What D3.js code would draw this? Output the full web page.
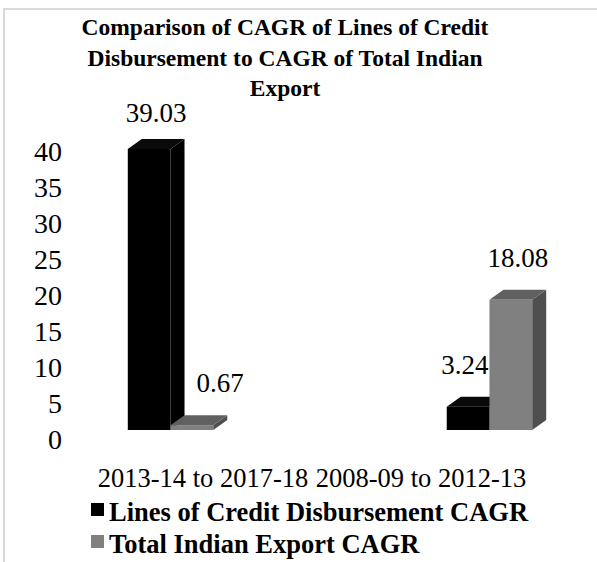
<!DOCTYPE html>
<html><head><meta charset="utf-8">
<script src="https://cdn.jsdelivr.net/npm/d3@7/dist/d3.min.js"></script>
<style>html,body{margin:0;padding:0;background:#fff;}svg{display:block;}svg text{font-family:"Liberation Serif";}</style>
</head><body>
<script>
const titleLines = ["Comparison of CAGR of Lines of Credit", "Disbursement to CAGR of Total Indian", "Export"];
const categories = ["2013-14 to 2017-18", "2008-09 to 2012-13"];
const seriesNames = ["Lines of Credit Disbursement CAGR", "Total Indian Export CAGR"];
const creditCAGR = [39.03, 3.24];
const exportCAGR = [0.67, 18.08];
const yTicks = [0, 5, 10, 15, 20, 25, 30, 35, 40];

const W = 597, H = 562;
const serif = "Liberation Serif";
const svg = d3.select("body").append("svg").attr("width", W).attr("height", H);

// frame
svg.append("path").attr("d", `M4,${H} L4,9 L${W},9`).attr("fill", "none")
  .attr("stroke", "#d9d9d9").attr("stroke-width", 2);

// title
svg.append("g").selectAll("text").data(titleLines).join("text")
  .attr("x", 285).attr("y", (d, i) => 35 + i * 30.5)
  .attr("text-anchor", "middle").style("font-family", serif)
  .attr("font-weight", "bold").attr("font-size", 23.5).attr("fill", "#000").text(d => d);

const series = [
  {name: seriesNames[0], values: creditCAGR, front: "#000000", top: "#0a0a0a", side: "#000000"},
  {name: seriesNames[1], values: exportCAGR, front: "#808080", top: "#606060", side: "#4f4f4f"}
];

const y = d3.scaleLinear().domain([0, 40]).range([430, 142]);
const x0 = d3.scaleBand().domain(categories).range([64, 596]).paddingInner(0.732).paddingOuter(0.2);
const x1 = d3.scaleBand().domain(series.map(s => s.name)).range([0, x0.bandwidth()]);
const depthX = 14, depthY = -10;

// y tick labels (aligned to back wall)
svg.append("g").selectAll("text").data(yTicks).join("text")
  .attr("x", 62).attr("y", d => y(d) + 9).attr("dy", "0.35em")
  .attr("text-anchor", "end").style("font-family", serif).attr("font-size", 28)
  .attr("fill", "#000").text(d => d);

// bars
const bars = [];
categories.forEach((c, ci) => {
  series.forEach((s, si) => {
    const xl = x0(c) + x1(s.name), w = x1.bandwidth();
    const yt = y(s.values[ci]), yb = y(0);
    bars.push({c, ci, s, si, xl, w, yt, yb, v: s.values[ci]});
  });
});
const gb = svg.append("g");
bars.forEach(b => {
  const {xl, w, yt, yb, s} = b;
  gb.append("polygon")
    .attr("points", [[xl + w, yt], [xl + w + depthX, yt + depthY], [xl + w + depthX, yb + depthY], [xl + w, yb]].join(" "))
    .attr("fill", s.side).attr("stroke", s.si ? "#8a8a8a" : "none").attr("stroke-width", 0.6);
  gb.append("polygon")
    .attr("points", [[xl, yt], [xl + depthX, yt + depthY], [xl + w + depthX, yt + depthY], [xl + w, yt]].join(" "))
    .attr("fill", s.top).attr("stroke", s.si ? "#8a8a8a" : "none").attr("stroke-width", 0.6);
  gb.append("rect").attr("x", xl).attr("y", yt).attr("width", w).attr("height", yb - yt)
    .attr("fill", s.front).attr("stroke", s.si ? "#999" : "none").attr("stroke-width", 0.6);
});

// value labels
const gl = svg.append("g");
bars.forEach(b => {
  const t = gl.append("text").style("font-family", serif).attr("font-size", 27).attr("fill", "#000")
    .attr("y", Math.max(b.yt - 33, 122)).text(b.v.toFixed(2));
  const tw = t.node().getComputedTextLength();
  let cx = b.xl + b.w / 2 + depthX / 2;
  let left = cx - tw / 2;
  const nb = bars.find(o => o.ci === b.ci && o.si !== b.si);
  if (nb && nb.v > b.v) {
    if (nb.si < b.si) { const edge = nb.xl + nb.w + depthX + 12; if (left < edge) left = edge; }
    else { const edge = nb.xl - 1; if (left + tw > edge) left = edge - tw; }
  }
  t.attr("x", left);
});

// category labels
const xc = d3.scalePoint().domain(categories).range([203, 421]);
svg.append("g").selectAll("text").data(categories).join("text")
  .attr("x", d => xc(d)).attr("y", 487).attr("text-anchor", "middle")
  .style("font-family", serif).attr("font-size", 26.5).attr("fill", "#000").text(d => d);

// legend
const lg = svg.append("g").selectAll("g").data(series).join("g")
  .attr("transform", (d, i) => `translate(91,${503 + i * 32})`);
lg.append("rect").attr("width", 13).attr("height", 13).attr("fill", d => d.front);
lg.append("text").attr("x", 18).attr("y", 18).style("font-family", serif).attr("font-weight", "bold")
  .attr("font-size", 26.5).attr("fill", "#000").text(d => d.name);
</script>
</body></html>
